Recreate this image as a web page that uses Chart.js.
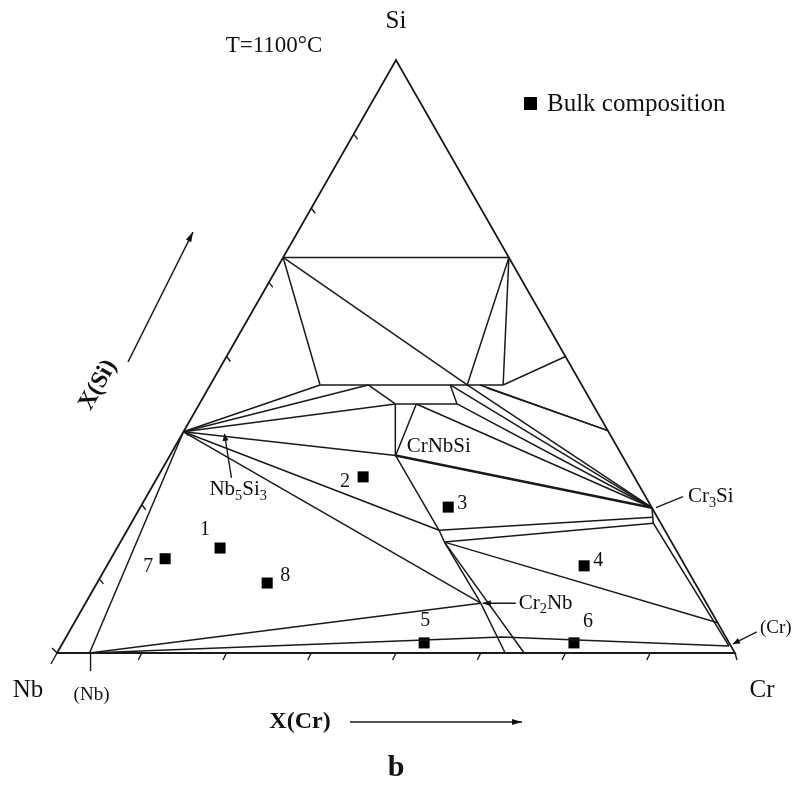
<!DOCTYPE html>
<html>
<head>
<meta charset="utf-8">
<script src="https://cdn.jsdelivr.net/npm/chart.js@4.4.1/dist/chart.umd.min.js"></script>
<style>
html,body{margin:0;padding:0;background:#fff;}
#wrap{width:803px;height:785px;position:relative;}
</style>
</head>
<body>
<div id="wrap"><canvas id="c" width="803" height="785"></canvas></div>
<script>
// ---------------- DATA (mole fractions X(Cr), X(Si)) ----------------
const vertexNames = ['Nb', 'Cr', 'Si'];
const vertexCr = [0, 1, 0];
const vertexSi = [0, 0, 1];

const phaseNames = ['NbSS','Nb5Si3','NbSi2','CrSi2','CrSi','Cr5Si3','Cr3Si','Cr3SiB','Cr3SiC','CrSS',
  'A1','A2','A3','A4','A5','A6','A7','B1','B2','B3','CrNbSi','J1','J2','Cr2Nb','L1b','L2b','K1','R1'];
const phaseCr = [0.048,0.000,0.000,0.333,0.500,0.625,0.755,0.764,0.770,0.985,
  0.162,0.233,0.354,0.379,0.398,0.432,0.411,0.289,0.320,0.380,0.333,0.460,0.478,0.583,0.661,0.689,0.642,0.949];
const phaseSi = [0.000,0.373,0.667,0.667,0.500,0.375,0.245,0.229,0.219,0.012,
  0.452,0.452,0.452,0.452,0.452,0.452,0.447,0.420,0.420,0.420,0.333,0.207,0.187,0.084,0.000,0.000,0.027,0.051];

// phase boundaries / tie lines (polylines through named compositions)
const tieLines = [
  ['NbSi2','CrSi2'],['NbSi2','A1'],['NbSi2','A4'],['CrSi2','A4'],['CrSi2','A6'],['A6','CrSi'],
  ['A1','A6'],['B1','B3'],['A2','B1'],['A3','B3'],
  ['Nb5Si3','A1'],['Nb5Si3','A2'],['Nb5Si3','B1'],['Nb5Si3','CrNbSi'],
  ['CrNbSi','B1'],['CrNbSi','B2'],
  ['B2','Cr3Si'],['B3','Cr3Si'],['A3','Cr3Si'],['A4','Cr3Si'],['A5','Cr5Si3'],['A7','Cr5Si3'],
  ['Nb5Si3','J1'],['Nb5Si3','Cr2Nb'],['NbSS','Nb5Si3'],['NbSS','Cr2Nb'],['NbSS','K1','CrSS'],
  ['CrNbSi','J1','J2','Cr2Nb','L1b'],['J2','L2b'],['J1','Cr3SiB'],['J2','Cr3SiC'],['J2','R1'],
  ['Cr3Si','Cr3SiC','CrSS']
];
const boldLines = [['CrNbSi','Cr3Si']];

// bulk alloy compositions
const bulkIds = ['1','2','3','4','5','6','7','8'];
const bulkCr = [0.152,0.303,0.454,0.704,0.533,0.754,0.080,0.251];
const bulkSi = [0.177,0.297,0.246,0.147,0.017,0.017,0.159,0.118];

// axis tick fractions
const tickFractions = [0.125,0.25,0.375,0.5,0.625,0.75,0.875];

// ---------------- styling / label placement (pixels) ----------------
const bulkLabelOffsets = [[-15,-18],[-18,5],[14,-3],[14,-5],[1,-22],[14,-21],[-17,8],[18,-7]];
const INK = '#1a1a1a';
const SERIF = '"Liberation Serif","Times New Roman",serif';

// ---------------- build ----------------
const toXY = (c, s) => ({x: c + s / 2, y: s});
const pt = {};
vertexNames.forEach((n, i) => pt[n] = toXY(vertexCr[i], vertexSi[i]));
phaseNames.forEach((n, i) => pt[n] = toXY(phaseCr[i], phaseSi[i]));

const lineDs = (names, w) => ({
  type: 'scatter', showLine: true, data: names.map(n => pt[n]),
  borderColor: INK, borderWidth: w, pointRadius: 0, tension: 0, clip: false, fill: false
});

const datasets = [];
datasets.push(lineDs(['Nb','Cr','Si','Nb'], 1.8));
tieLines.forEach(l => datasets.push(lineDs(l, 1.5)));
boldLines.forEach(l => datasets.push(lineDs(l, 2.4)));
datasets.push({
  type: 'scatter', label: 'Bulk composition',
  data: bulkCr.map((c, i) => toXY(c, bulkSi[i])),
  pointStyle: 'rect', pointRadius: 7.8, pointBackgroundColor: '#000', pointBorderColor: '#000',
  pointBorderWidth: 0, showLine: false, clip: false
});

function seg(ctx, x1, y1, x2, y2) { ctx.beginPath(); ctx.moveTo(x1, y1); ctx.lineTo(x2, y2); ctx.stroke(); }
function arrow(ctx, x1, y1, x2, y2, head) {
  seg(ctx, x1, y1, x2, y2);
  const a = Math.atan2(y2 - y1, x2 - x1), L = head || 8, W = 3;
  ctx.beginPath();
  ctx.moveTo(x2, y2);
  ctx.lineTo(x2 - L * Math.cos(a) + W * Math.sin(a), y2 - L * Math.sin(a) - W * Math.cos(a));
  ctx.lineTo(x2 - L * Math.cos(a) - W * Math.sin(a), y2 - L * Math.sin(a) + W * Math.cos(a));
  ctx.closePath(); ctx.fill();
}
// parts: [[text, isSub], ...]
function rich(ctx, parts, x, y, size, align, weight) {
  const w = weight || 'normal';
  let total = 0;
  parts.forEach(p => { ctx.font = w + ' ' + (p[1] ? size * 0.68 : size) + 'px ' + SERIF; total += ctx.measureText(p[0]).width; });
  let cx = align === 'center' ? x - total / 2 : (align === 'right' ? x - total : x);
  ctx.textAlign = 'left'; ctx.textBaseline = 'middle';
  parts.forEach(p => {
    ctx.font = w + ' ' + (p[1] ? size * 0.68 : size) + 'px ' + SERIF;
    ctx.fillText(p[0], cx, p[1] ? y + size * 0.3 : y);
    cx += ctx.measureText(p[0]).width;
  });
}

const overlay = {
  id: 'overlay',
  afterDatasetsDraw(chart) {
    const ctx = chart.ctx, X = chart.scales.x, Y = chart.scales.y;
    const P = (name) => ({x: X.getPixelForValue(pt[name].x), y: Y.getPixelForValue(pt[name].y)});
    const PC = (c, s) => ({x: X.getPixelForValue(c + s / 2), y: Y.getPixelForValue(s)});
    ctx.save();
    ctx.strokeStyle = INK; ctx.fillStyle = INK; ctx.lineWidth = 1.4;

    // ticks
    tickFractions.forEach(f => {
      const b = PC(f, 0); seg(ctx, b.x, b.y, b.x - 3.5, b.y + 7);
      const l = PC(0, f); seg(ctx, l.x, l.y, l.x + 4, l.y + 5);
    });
    const nb = P('Nb'), cr = P('Cr'), si = P('Si');
    seg(ctx, nb.x, nb.y, nb.x - 6, nb.y + 11);
    seg(ctx, nb.x, nb.y, nb.x - 5, nb.y - 5);
    seg(ctx, cr.x, cr.y, cr.x + 2, cr.y + 7);

    // vertex labels
    ctx.fillStyle = '#111';
    rich(ctx, [['Si',0]], si.x, si.y - 39, 25, 'center');
    rich(ctx, [['Nb',0]], nb.x - 29, nb.y + 37, 25, 'center');
    rich(ctx, [['Cr',0]], cr.x + 27, cr.y + 37, 25, 'center');

    // phase annotations
    const a5 = P('Nb5Si3');
    arrow(ctx, a5.x + 48, a5.y + 46, a5.x + 41, a5.y + 2, 7);
    rich(ctx, [['Nb',0],['5',1],['Si',0],['3',1]], a5.x + 26, a5.y + 58, 21, 'left');
    const cn = P('CrNbSi');
    rich(ctx, [['CrNbSi',0]], cn.x + 11, cn.y - 9, 21, 'left');
    const c3 = P('Cr3Si');
    seg(ctx, c3.x + 4, c3.y, c3.x + 31, c3.y - 11);
    rich(ctx, [['Cr',0],['3',1],['Si',0]], c3.x + 36, c3.y - 11, 21, 'left');
    const c2 = P('Cr2Nb');
    arrow(ctx, c2.x + 35, c2.y, c2.x + 2, c2.y, 8);
    rich(ctx, [['Cr',0],['2',1],['Nb',0]], c2.x + 38, c2.y, 21, 'left');
    const css = P('CrSS');
    arrow(ctx, css.x + 28, css.y - 14, css.x + 4, css.y - 2, 7);
    rich(ctx, [['(Cr)',0]], css.x + 31, css.y - 18, 19, 'left');
    const nss = P('NbSS');
    seg(ctx, nss.x + 1, nss.y, nss.x + 1, nss.y + 18);
    rich(ctx, [['(Nb)',0]], nss.x + 2, nss.y + 42, 19, 'center');

    // bulk labels
    const bd = chart.getDatasetMeta(chart.data.datasets.length - 1).data;
    bd.forEach((el, i) => {
      rich(ctx, [[bulkIds[i],0]], el.x + bulkLabelOffsets[i][0], el.y + bulkLabelOffsets[i][1], 20, 'center');
    });

    // temperature and legend
    rich(ctx, [['T=1100°C',0]], si.x - 122, si.y - 14, 23, 'center');
    ctx.fillStyle = '#000';
    ctx.fillRect(si.x + 128, si.y + 37, 13, 13);
    ctx.fillStyle = '#111';
    rich(ctx, [['Bulk composition',0]], si.x + 151, si.y + 44, 25, 'left');

    // axis titles
    ctx.save();
    ctx.translate(98, 385);
    ctx.rotate(Math.atan2(si.y - nb.y, si.x - nb.x));
    rich(ctx, [['X(Si)',0]], 0, 0, 24, 'center', 'bold');
    ctx.restore();
    ctx.lineWidth = 1.5;
    arrow(ctx, 128, 362, 193, 232, 10);
    rich(ctx, [['X(Cr)',0]], 300, 722, 24, 'center', 'bold');
    arrow(ctx, 350, 722, 522, 722, 10);
    rich(ctx, [['b',0]], 396, 768, 30, 'center', 'bold');
    ctx.restore();
  }
};

new Chart(document.getElementById('c'), {
  type: 'scatter',
  data: {datasets},
  options: {
    responsive: false,
    devicePixelRatio: 1,
    animation: false,
    layout: {padding: {left: 57, right: 68, top: 60, bottom: 132}},
    scales: {
      x: {type: 'linear', min: 0, max: 1, display: false},
      y: {type: 'linear', min: 0, max: 1, display: false}
    },
    plugins: {legend: {display: false}, tooltip: {enabled: false}}
  },
  plugins: [overlay]
});
</script>
</body>
</html>
